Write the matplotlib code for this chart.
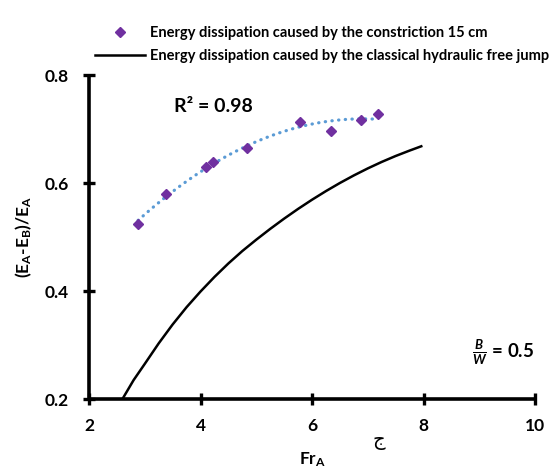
import numpy as np
import matplotlib
matplotlib.use('Agg')
import matplotlib.pyplot as plt
from matplotlib.lines import Line2D

# ---- data ----
fr_constriction = [2.88, 3.38, 4.09, 4.23, 4.83, 5.78, 6.34, 6.87, 7.19]
ed_constriction = [0.524, 0.580, 0.630, 0.639, 0.665, 0.713, 0.697, 0.716, 0.728]
fr_free = [2.60, 2.80, 3.00, 3.25, 3.50, 3.75, 4.00, 4.25, 4.50, 4.75, 5.00, 5.25, 5.50,
           5.75, 6.00, 6.25, 6.50, 6.75, 7.00, 7.25, 7.50, 7.75, 7.96]
ed_free = [0.200, 0.235, 0.265, 0.303, 0.338, 0.370, 0.399, 0.426, 0.451, 0.474, 0.495,
           0.515, 0.534, 0.552, 0.569, 0.585, 0.600, 0.614, 0.627, 0.639, 0.650, 0.660, 0.668]
x_ticks = [2, 4, 6, 8, 10]
y_ticks = [0.2, 0.4, 0.6, 0.8]
label_constriction = 'Energy dissipation caused by the constriction 15 cm'
label_free = 'Energy dissipation caused by the classical hydraulic free jump'

plt.rcParams['font.family'] = ['Lato', 'DejaVu Sans']
plt.rcParams['font.weight'] = 'bold'
plt.rcParams['mathtext.fontset'] = 'custom'
plt.rcParams['mathtext.rm'] = 'Lato:bold'
plt.rcParams['mathtext.bf'] = 'Lato:bold'
plt.rcParams['mathtext.it'] = 'Lato:bold:italic'
plt.rcParams['mathtext.default'] = 'bf'

W, H = 559, 471
fig = plt.figure(figsize=(W / 100, H / 100), dpi=100)
ax = fig.add_axes([89 / W, (H - 399) / H, (535 - 89) / W, (399 - 75) / H])

purple = '#7030A0'
blue = '#5B9BD5'

# trendline (2nd order polynomial fit)
coef = np.polyfit(fr_constriction, ed_constriction, 2)
xs = np.linspace(min(fr_constriction), max(fr_constriction), 200)
ax.plot(xs, np.polyval(coef, xs), linestyle=(0, (0.1, 2.0)), color=blue, lw=2.3,
        dash_capstyle='round', solid_capstyle='round', zorder=2)
ax.plot(fr_free, ed_free, color='black', lw=1.8, zorder=2, solid_joinstyle='round')
ax.plot(fr_constriction, ed_constriction, linestyle='none', marker='D', ms=5.6,
        color=purple, zorder=3)

ax.set_xlim(2, 10)
ax.set_ylim(0.2, 0.8)
ax.set_xticks(x_ticks)
ax.set_yticks(y_ticks)
tick_font = {'fontsize': 12.5, 'fontweight': 'bold', 'family': 'Lato'}
ax.set_xticklabels([str(v) for v in x_ticks], **tick_font)
ax.set_yticklabels([f'{v:.1f}' for v in y_ticks], **tick_font)

for s in ['top', 'right']:
    ax.spines[s].set_visible(False)
for s in ['left', 'bottom']:
    ax.spines[s].set_linewidth(2.6)
    ax.spines[s].set_capstyle('butt')
ax.tick_params(direction='inout', length=9, width=2.4, colors='black')
ax.tick_params(axis='x', pad=9)
ax.tick_params(axis='y', pad=10)
ax.patch.set_visible(False)

ax.set_xlabel('Fr$_{A}$', fontsize=12.5, fontweight='bold', labelpad=12)
ax.set_ylabel('(E$_{A}$-E$_{B}$)/E$_{A}$', fontsize=12.5, fontweight='bold', labelpad=8)

# annotations
fig.text(213 / W, 1 - 106 / H, 'R² = 0.98', fontsize=14, ha='center', va='center',
         fontweight='bold')
fig.text(503 / W, 1 - 352 / H, r'$\frac{\mathit{B}}{\mathit{W}}$ = 0.5', fontsize=13.5,
         ha='center', va='center', fontweight='bold')
fig.text(379 / W, 1 - 441 / H, 'ج', fontsize=14, ha='center', va='center',
         family=['DejaVu Sans'], fontweight='normal')

# legend
handles = [Line2D([], [], linestyle='none', marker='D', ms=5.5, color=purple),
           Line2D([], [], color='black', lw=1.8)]
fig.legend(handles, [label_constriction, label_free], loc='upper left',
           bbox_to_anchor=(95 / W, 1 - 26 / H), frameon=False,
           prop={'weight': 'bold', 'size': 10.5}, handlelength=3.4, handletextpad=0.4,
           labelspacing=0.6, borderpad=0, borderaxespad=0)

fig.savefig('out.png', dpi=100)
